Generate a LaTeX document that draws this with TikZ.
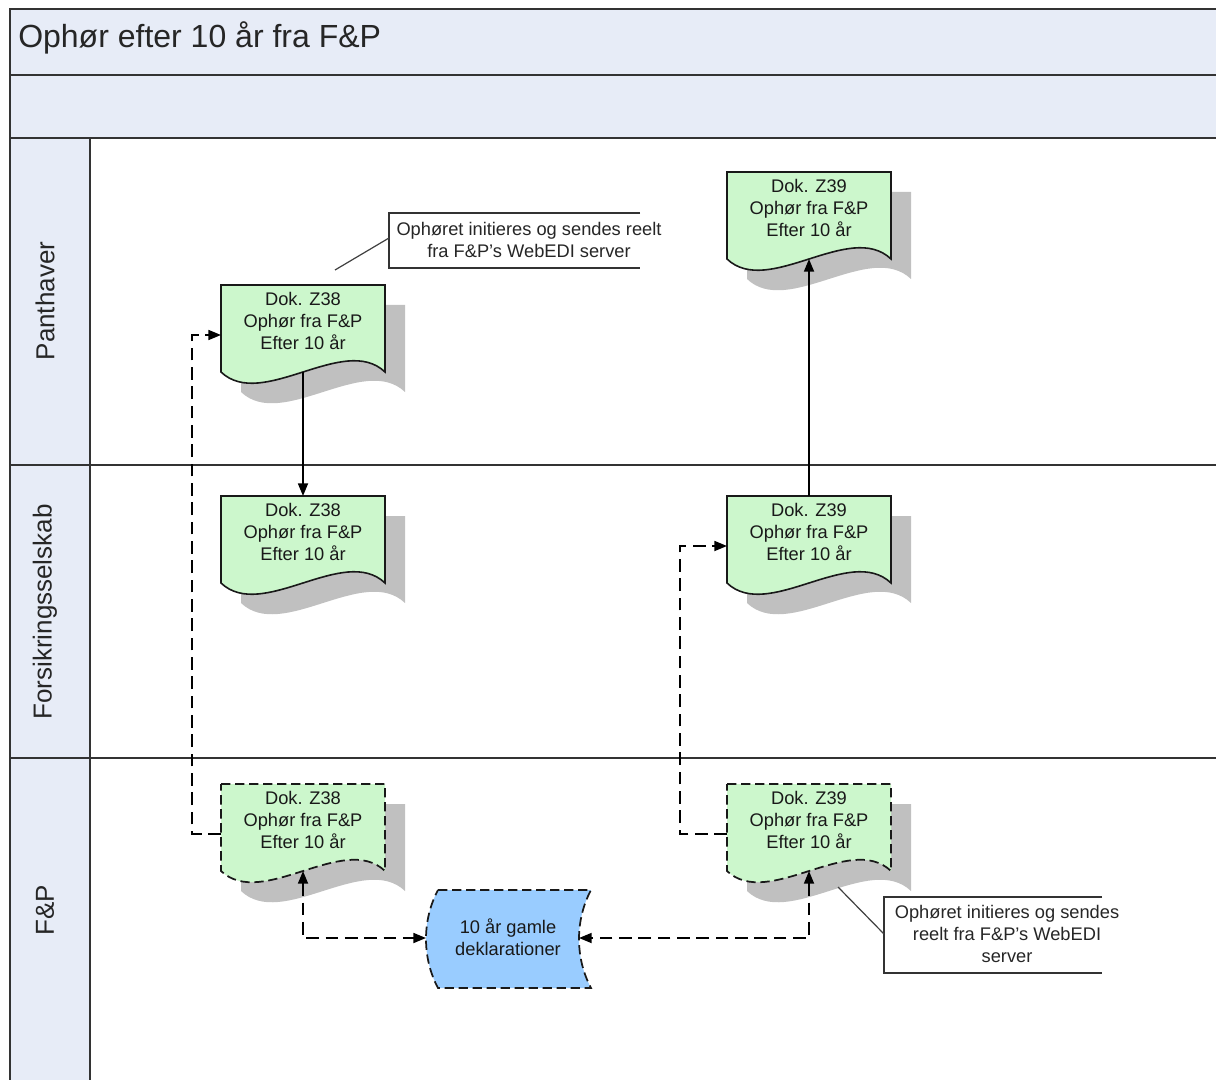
\documentclass[tikz,border=0pt]{standalone}
\usepackage{fontspec}
\setmainfont{Liberation Sans}
\usetikzlibrary{arrows.meta}
\definecolor{lanebg}{HTML}{E7ECF7}
\definecolor{docgreen}{HTML}{CCF7CC}
\definecolor{dekblue}{HTML}{99CCFF}
\definecolor{shadowc}{HTML}{C0C0C0}
\definecolor{framec}{HTML}{333333}
\definecolor{callc}{HTML}{404040}
\tikzset{
  frameline/.style={draw=framec, line width=1.4pt},
  docline/.style={draw=black!90, line width=1.2pt, fill=docgreen},
  dashline/.style={dash pattern=on 7pt off 3.5pt, line width=1.3pt},
  doctext/.style={font=\fontsize{13.7}{16.5}\selectfont, align=center, inner sep=0pt, text=black!90},
  calltext/.style={font=\fontsize{13.7}{16}\selectfont, align=center, inner sep=0pt, text=black!85},
  lanetext/.style={font=\fontsize{19.5}{22}\selectfont, rotate=90, inner sep=0pt, text=black!85},
  conn/.style={line width=1.3pt, black, -{Triangle[length=9.5pt,width=7.5pt]}},
  dconn/.style={conn, dash pattern=on 9.5pt off 5pt},
  callline/.style={draw=callc, line width=0.9pt},
}
\newcommand{\docshape}[5][]{%
  \begin{scope}[shift={(#3,#4)}]
    \fill[shadowc] (20,20) -- (184,20) -- (184,107) .. controls (143,68) and (61,146) .. (20,107) -- cycle;
    \filldraw[docline,#1] (0,0) -- (164,0) -- (164,87) .. controls (123,48) and (41,126) .. (0,87) -- cycle;
    \node[doctext] (#2) at (82,36) {#5};
    \coordinate (#2-n) at (82,0);
    \coordinate (#2-b) at (82,87);
    \coordinate (#2-w) at (0,50);
  \end{scope}}
\begin{document}
\begin{tikzpicture}[x=0.75pt,y=-0.75pt]
\useasboundingbox (0,0) rectangle (1216,1080);
\fill[white] (0,0) rectangle (1216,1080);
% bands
\fill[lanebg] (10,9) rectangle (1216,138);
\fill[lanebg] (10,138) rectangle (90,1080);
\draw[frameline] (1216,9) -- (10,9) -- (10,1080);
\draw[frameline] (10,75) -- (1216,75);
\draw[frameline] (10,138) -- (1216,138);
\draw[frameline] (90,138) -- (90,1080);
\draw[frameline] (10,465) -- (1216,465);
\draw[frameline] (10,758) -- (1216,758);
% title and lanes
\node[anchor=base west, font=\fontsize{24}{28}\selectfont, inner sep=0pt, text=black!85] (title) at (18,48) {Ophør efter 10 år fra F\&P};
\node[lanetext] (lane1) at (45,301) {Panthaver};
\node[lanetext] (lane2) at (45,612) {Forsikringsselskab};
\node[lanetext] (lane3) at (45,910) {F\&P};
% documents
\docshape{z38p}{221}{285}{Dok. Z38\\Ophør fra F\&P\\Efter 10 år}
\docshape{z39p}{727}{172}{Dok. Z39\\Ophør fra F\&P\\Efter 10 år}
\docshape{z38f}{221}{496}{Dok. Z38\\Ophør fra F\&P\\Efter 10 år}
\docshape{z39f}{727}{496}{Dok. Z39\\Ophør fra F\&P\\Efter 10 år}
\docshape[dashline]{z38x}{221}{784}{Dok. Z38\\Ophør fra F\&P\\Efter 10 år}
\docshape[dashline]{z39x}{727}{784}{Dok. Z39\\Ophør fra F\&P\\Efter 10 år}
% stored data
\filldraw[fill=dekblue, draw=black!90, dashline]
  (438,890) -- (591,890) .. controls (575,920) and (575,958) .. (591,988)
  -- (438,988) .. controls (422,958) and (422,920) .. (438,890) -- cycle;
\node[doctext] (dek) at (508,937) {10 år gamle\\deklarationer};
\coordinate (dek-w) at (426,938);
\coordinate (dek-e) at (579,938);
% callouts
\draw[framec, line width=1pt] (640,213) -- (389,213) -- (389,268) -- (640,268);
\node[calltext] (ann1) at (529,240) {Ophøret initieres og sendes reelt\\fra F\&P's WebEDI server};
\coordinate (ann1-w) at (389,238);
\coordinate (ann1-t) at (335,270);
\draw[callline] (ann1-t) -- (ann1-w);
\draw[framec, line width=1pt] (1102,897) -- (884,897) -- (884,973) -- (1102,973);
\node[calltext, font=\fontsize{13.7}{16.5}\selectfont] (ann2) at (1007,934) {Ophøret initieres og sendes\\reelt fra F\&P's WebEDI\\server};
\coordinate (ann2-w) at (884,934);
\coordinate (ann2-t) at (838,887);
\draw[callline] (ann2-t) -- (ann2-w);
% connectors
\draw[conn] (z38p-b) -- (z38f-n);
\draw[conn] (z39f-n) -- (z39p-b);
\draw[dconn] (z38x-w) -- ++(-29,0) |- (z38p-w);
\draw[dconn] (z39x-w) -- ++(-47,0) |- (z39f-w);
\draw[dconn, {Triangle[length=9.5pt,width=7.5pt]}-{Triangle[length=9.5pt,width=7.5pt]}] (z38x-b) |- (dek-w);
\draw[dconn, {Triangle[length=9.5pt,width=7.5pt]}-{Triangle[length=9.5pt,width=7.5pt]}] (z39x-b) |- (dek-e);
\end{tikzpicture}
\end{document}
